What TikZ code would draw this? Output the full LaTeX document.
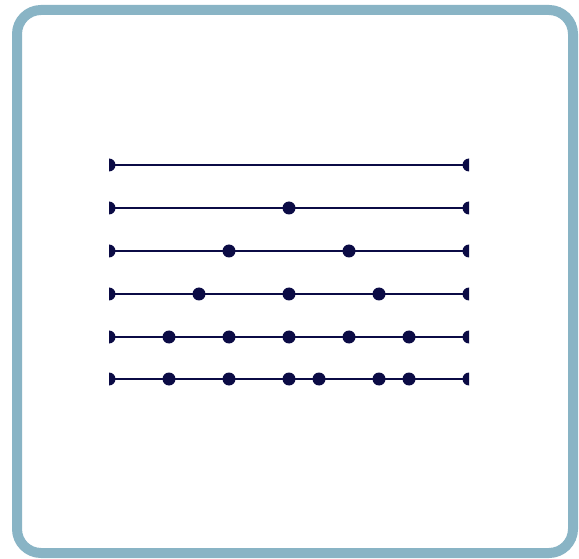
\documentclass[tikz,border=0pt]{standalone}
\definecolor{frame}{HTML}{89B4C5}
\definecolor{ink}{HTML}{0B0B45}
\tikzset{
  dotc/.style={circle,fill=ink,inner sep=0pt,minimum size=13pt},
  seg/.style={draw=ink,line width=2.6pt},
  frm/.style={draw=frame,line width=10pt,rounded corners=24pt}
}
\begin{document}
\begin{tikzpicture}[x=1pt,y=1pt]
\useasboundingbox (0,0) rectangle (579,558);
\fill[white] (0,0) rectangle (579,558);
\node[frm,minimum width=556pt,minimum height=543pt,inner sep=0pt] (box) at (295,276.5) {};
% row coordinates
\foreach \r/\y in {1/393,2/350,3/307,4/264,5/221,6/179}{
  \coordinate (L\r) at (109,\y);
  \coordinate (R\r) at (469,\y);
  \draw[seg] (L\r) -- (R\r);
  \fill[ink] (L\r) ++(0,6.5) arc[start angle=90,end angle=-90,radius=6.5] -- cycle;
  \fill[ink] (R\r) ++(0,6.5) arc[start angle=90,end angle=270,radius=6.5] -- cycle;
}
\node[dotc] (d2a) at (289,350) {};
\foreach \x [count=\i] in {229,349}{\node[dotc] (d3-\i) at (\x,307) {};}
\foreach \x [count=\i] in {199,289,379}{\node[dotc] (d4-\i) at (\x,264) {};}
\foreach \x [count=\i] in {169,229,289,349,409}{\node[dotc] (d5-\i) at (\x,221) {};}
\foreach \x [count=\i] in {169,229,289,319,379,409}{\node[dotc] (d6-\i) at (\x,179) {};}
\end{tikzpicture}
\end{document}
